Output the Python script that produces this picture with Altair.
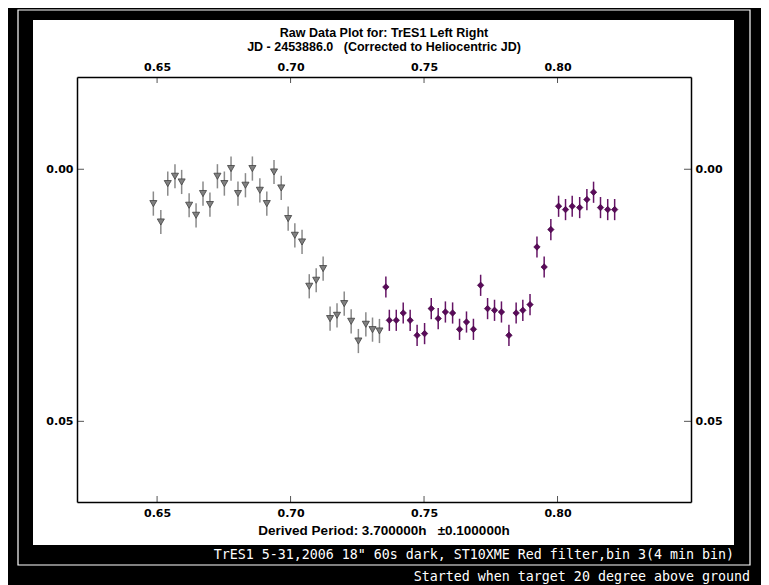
import altair as alt
import pandas as pd

# ---- data ----
gray_x = [0.6486, 0.6514, 0.6540, 0.6567, 0.6592, 0.6620, 0.6646, 0.6672, 0.6698,
          0.6726, 0.6752, 0.6777, 0.6803, 0.6831, 0.6857, 0.6885, 0.6911, 0.6938,
          0.6965, 0.6991, 0.7016, 0.7043, 0.7070, 0.7096, 0.7122, 0.7148, 0.7174,
          0.7201, 0.7227, 0.7254, 0.7282, 0.7307, 0.7333]
gray_y = [0.00681, 0.01046, 0.00284, 0.00139, 0.00252, 0.00714, 0.00913, 0.00482,
          0.00700, 0.00139, 0.00284, -0.00014, 0.00482, 0.00317, -0.00014, 0.00417,
          0.00681, 0.00054, 0.00371, 0.00978, 0.01310, 0.01442, 0.02321, 0.02202,
          0.01970, 0.02962, 0.02897, 0.02665, 0.03016, 0.03407, 0.03075, 0.03181,
          0.03208]
purple_x = [0.7357, 0.7370, 0.7396, 0.7422, 0.7448, 0.7474, 0.7502, 0.7527, 0.7553,
            0.7580, 0.7607, 0.7633, 0.7659, 0.7685, 0.7712, 0.7738, 0.7764, 0.7790,
            0.7818, 0.7845, 0.7870, 0.7897, 0.7923, 0.7950, 0.7975, 0.8004, 0.8030,
            0.8055, 0.8083, 0.8110, 0.8135, 0.8161, 0.8188, 0.8214]
purple_y = [0.02335, 0.02996, 0.02996, 0.02851, 0.02996, 0.03294, 0.03260, 0.02764,
            0.02962, 0.02831, 0.02851, 0.03175, 0.03030, 0.03175, 0.02302, 0.02764,
            0.02798, 0.02831, 0.03294, 0.02851, 0.02798, 0.02685, 0.01542, 0.01938,
            0.01196, 0.00734, 0.00800, 0.00734, 0.00760, 0.00601, 0.00456, 0.00760,
            0.00800, 0.00800]
gray_err = 0.0024
purple_err = 0.0021
x_ticks = [0.65, 0.70, 0.75, 0.80]
y_ticks = [0.00, 0.05]

title_1 = "Raw Data Plot for: TrES1 Left Right"
title_2 = "JD - 2453886.0\u00a0\u00a0\u00a0(Corrected to Heliocentric JD)"
period_text = "Derived Period: 3.700000h\u00a0\u00a0\u00a0\u00b10.100000h"
note_1 = 'TrES1 5-31,2006 18" 60s dark, ST10XME Red filter,bin 3(4 min bin)'
note_2 = "Started when target 20 degree above ground"

# ---- tables ----
gray = pd.DataFrame({"t": gray_x, "m": gray_y})
gray["lo"] = gray["m"] - gray_err
gray["hi"] = gray["m"] + gray_err
purple = pd.DataFrame({"t": purple_x, "m": purple_y})
purple["lo"] = purple["m"] - purple_err
purple["hi"] = purple["m"] + purple_err
xt = pd.DataFrame({"v": x_ticks})
yt = pd.DataFrame({"v": y_ticks})
one = alt.Data(values=[{"a": 1}])

W, H = 614, 425
xs = alt.Scale(domain=[0.62, 0.85], nice=False, zero=False)
ys = alt.Scale(domain=[-0.0183, 0.066], nice=False, zero=False, reverse=True)

ax_common = dict(ticks=False, grid=False, title=None, domainColor="black",
                 domainWidth=1.5, labelFont="DejaVu Sans", labelFontWeight="bold",
                 labelFontSize=11, labelColor="black", zindex=1, format=".2f")

x_bottom = alt.Axis(orient="bottom", values=x_ticks, labelPadding=5, **ax_common)
x_top = alt.Axis(orient="top", values=x_ticks, labelPadding=5, **ax_common)
y_left = alt.Axis(orient="left", values=y_ticks, labelPadding=4, **ax_common)
y_right = alt.Axis(orient="right", values=y_ticks, labelPadding=4, **ax_common)

panel = alt.Chart(one).mark_rect(fill="white").encode(
    x=alt.value(-44), x2=alt.value(657), y=alt.value(-57), y2=alt.value(468))
frame = alt.Chart(one).mark_rect(fillOpacity=0, stroke="white", strokeWidth=1.2).encode(
    x=alt.value(-59), x2=alt.value(673), y=alt.value(-67), y2=alt.value(488))

gray_bars = alt.Chart(gray).mark_rule(color="#8a8a8a", strokeWidth=1.5).encode(
    x=alt.X("t:Q", scale=xs, axis=None),
    y=alt.Y("lo:Q", scale=ys, axis=None), y2="hi:Q")
gray_pts = alt.Chart(gray).mark_point(shape="triangle-down", filled=True, size=50,
                                      fill="#808080", stroke="#404040",
                                      strokeWidth=0.8, opacity=1).encode(
    x=alt.X("t:Q", scale=xs, axis=x_bottom),
    y=alt.Y("m:Q", scale=ys, axis=y_left))

purple_bars = alt.Chart(purple).mark_rule(color="#651465", strokeWidth=1.5).encode(
    x=alt.X("t:Q", scale=xs, axis=None),
    y=alt.Y("lo:Q", scale=ys, axis=None), y2="hi:Q")
purple_pts = alt.Chart(purple).mark_point(shape="diamond", filled=True, size=42,
                                          fill="#5a0a5a", stroke="#3a003a",
                                          strokeWidth=0.6, opacity=1).encode(
    x=alt.X("t:Q", scale=xs, axis=x_top),
    y=alt.Y("m:Q", scale=ys, axis=y_right))

tick_style = dict(color="#555555", strokeWidth=1)
xt_bottom = alt.Chart(xt).mark_rule(**tick_style).encode(
    x=alt.X("v:Q", scale=xs, axis=None), y=alt.value(H - 6), y2=alt.value(H))
xt_top = alt.Chart(xt).mark_rule(**tick_style).encode(
    x=alt.X("v:Q", scale=xs, axis=None), y=alt.value(0), y2=alt.value(6))
yt_left = alt.Chart(yt).mark_rule(**tick_style).encode(
    y=alt.Y("v:Q", scale=ys, axis=None), x=alt.value(0), x2=alt.value(7))
yt_right = alt.Chart(yt).mark_rule(**tick_style).encode(
    y=alt.Y("v:Q", scale=ys, axis=None), x=alt.value(W - 7), x2=alt.value(W))

tfont = dict(font="Liberation Sans", fontWeight="bold", fontSize=12.5,
             color="black", align="center", baseline="middle")
t1 = alt.Chart(one).mark_text(text=title_1, **tfont).encode(
    x=alt.value(307), y=alt.value(-44))
t2 = alt.Chart(one).mark_text(text=title_2, **tfont).encode(
    x=alt.value(307), y=alt.value(-30))
t3 = alt.Chart(one).mark_text(text=period_text, **dict(tfont, fontSize=13.5)).encode(
    x=alt.value(307), y=alt.value(454))

nfont = dict(font="DejaVu Sans Mono", fontSize=13.3, color="white",
             align="right", baseline="middle")
n1 = alt.Chart(one).mark_text(text=note_1, **nfont).encode(
    x=alt.value(657), y=alt.value(478))
n2 = alt.Chart(one).mark_text(text=note_2, **nfont).encode(
    x=alt.value(673), y=alt.value(500))

chart = alt.layer(
    panel, frame, gray_bars, gray_pts, purple_bars, purple_pts,
    xt_bottom, xt_top, yt_left, yt_right, t1, t2, t3, n1, n2
).resolve_axis(x="independent", y="independent").properties(
    width=W, height=H,
    padding={"left": 69, "top": 69, "right": 70, "bottom": 83},
    autosize=alt.AutoSizeParams(type="none"),
    background="black",
).configure_view(stroke=None)

chart.save("out.html", embed_options={"renderer": "svg", "actions": False})
